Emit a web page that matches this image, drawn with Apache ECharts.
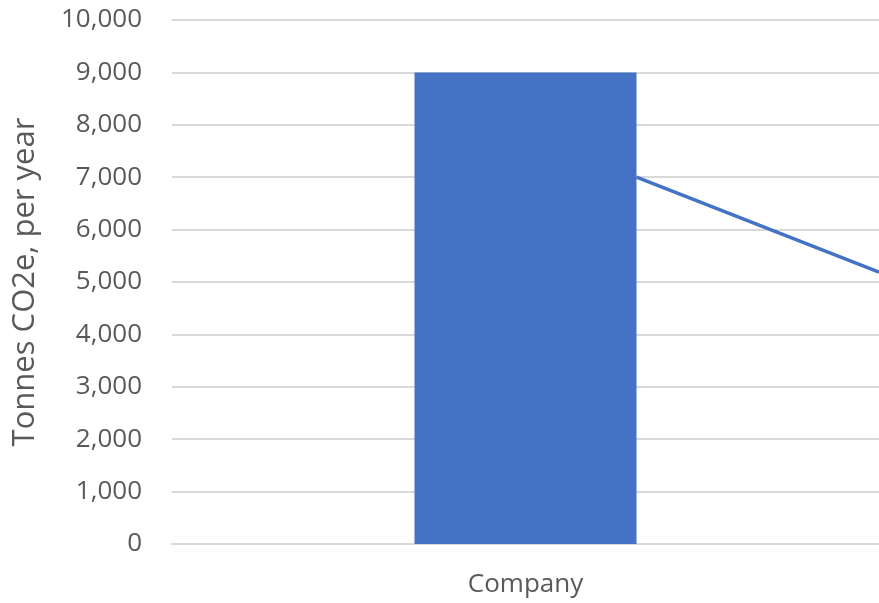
<!DOCTYPE html>
<html>
<head>
<meta charset="utf-8">
<script src="https://cdn.jsdelivr.net/npm/echarts@6/dist/echarts.min.js"></script>
<style>
  html, body { margin: 0; padding: 0; background: #ffffff; }
  #chart { width: 879px; height: 603px; }
</style>
</head>
<body>
<div id="chart"></div>
<script>
// Emissions data
const categories = ['Company'];
const barValues = [9000];
// Trend line: positions along the category band (0 = left edge, 2 = right edge) and values
const trendPos = [1.314, 2];
const trendValues = [7000, 5190];
const yTicks = { min: 0, max: 10000, interval: 1000 };
const yTitle = 'Tonnes CO2e, per year';

const font = '"Open Sans", "Liberation Sans", sans-serif';
const textColor = '#595959';
const gridColor = '#d9d9d9';
const blue = '#4472C4';

const chart = echarts.init(document.getElementById('chart'), null, { renderer: 'canvas' });
chart.setOption({
  animation: false,
  backgroundColor: '#ffffff',
  grid: { left: 172, right: -1, top: 20, bottom: 59, containLabel: false },
  xAxis: [
    {
      type: 'category',
      data: categories,
      axisLine: { show: true, lineStyle: { color: gridColor, width: 2 } },
      axisTick: { show: false },
      axisLabel: { color: textColor, fontFamily: font, fontSize: 26, margin: 28 },
      splitLine: { show: false }
    },
    {
      type: 'value',
      min: 0,
      max: 2,
      show: false
    }
  ],
  yAxis: {
    type: 'value',
    min: yTicks.min,
    max: yTicks.max,
    interval: yTicks.interval,
    name: yTitle,
    nameLocation: 'middle',
    nameGap: 131,
    nameTextStyle: { color: textColor, fontFamily: font, fontSize: 31 },
    axisLine: { show: false },
    axisTick: { show: false },
    axisLabel: {
      color: textColor, fontFamily: font, fontSize: 26, margin: 30,
      formatter: v => v.toLocaleString('en-US')
    },
    splitLine: { lineStyle: { color: gridColor, width: 2 } }
  },
  series: [
    {
      type: 'bar',
      xAxisIndex: 0,
      data: barValues,
      barWidth: 222,
      itemStyle: { color: blue },
      z: 2
    },
    {
      type: 'line',
      xAxisIndex: 1,
      data: trendPos.map((p, i) => [p, trendValues[i]]),
      symbol: 'none',
      lineStyle: { color: blue, width: 3.5 },
      z: 3
    }
  ]
});
</script>
</body>
</html>
